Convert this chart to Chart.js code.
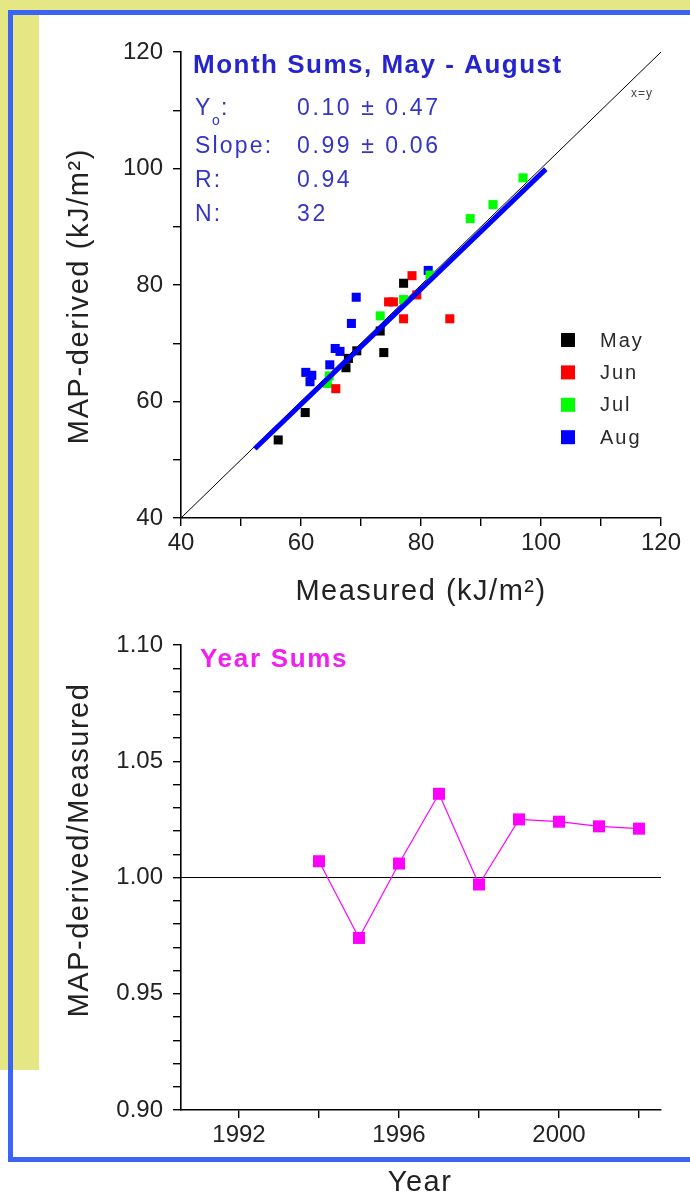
<!DOCTYPE html>
<html>
<head>
<meta charset="utf-8">
<script src="https://cdn.jsdelivr.net/npm/chart.js@4.4.1/dist/chart.umd.min.js"></script>
<style>
    html, body { margin: 0; padding: 0; background: #fff; }
    body { position: relative; width: 690px; height: 1197px; overflow: hidden; }
    .band-top { position: absolute; left: 0; top: 0; width: 690px; height: 10px; background: #e4e783; }
    .band-left { position: absolute; left: 0; top: 0; width: 39px; height: 1070px; background: #e4e783; }
    .frame { position: absolute; left: 8px; top: 10px; width: 720px; height: 1152px; box-sizing: border-box; border: 5px solid #3b63f4; }
    canvas { position: absolute; left: 0; }
    #monthChart { top: 0; }
    #yearChart { top: 620px; }
</style>
</head>
<body>
<div class="band-top"></div>
<div class="band-left"></div>
<div class="frame"></div>
<canvas id="monthChart" width="690" height="620"></canvas>
<canvas id="yearChart" width="690" height="577"></canvas>
<script>
// monthly sums, measured vs MAP-derived (kJ/m2)
const monthNames = ['May', 'Jun', 'Jul', 'Aug'];
const monthColors = ['#000000', '#ff0000', '#00ff00', '#0000ff'];
const mayMeasured = [56.2, 60.7, 67.5, 67.9, 69.3, 73.2, 73.8, 77.1];
const mayDerived = [53.4, 58.1, 65.8, 67.4, 68.7, 72.1, 68.4, 80.3];
const junMeasured = [65.8, 74.6, 75.4, 77.1, 78.5, 79.3, 84.8];
const junDerived = [62.2, 77.1, 77.1, 74.2, 81.6, 78.3, 74.2];
const julMeasured = [64.4, 64.7, 73.2, 77.1, 81.5, 88.2, 92.0, 97.0];
const julDerived = [63.1, 64.4, 74.7, 77.5, 81.7, 91.4, 93.8, 98.4];
const augMeasured = [69.2, 68.4, 65.7, 66.5, 64.8, 60.8, 61.8, 61.5, 81.2];
const augDerived = [77.9, 73.4, 69.1, 68.6, 66.3, 65.0, 64.5, 63.4, 82.5];

// linear fit statistics
const fitIntercept = [0.10, 0.47];
const fitSlope = [0.99, 0.06];
const fitR = 0.94;
const fitN = 32;
const fitRange = [52.3, 100.8];
const identityRange = [40, 120];

const monthTicks = [40, 50, 60, 70, 80, 90, 100, 110, 120];

// yearly sums ratio
const years = [1994, 1995, 1996, 1997, 1998, 1999, 2000, 2001, 2002];
const yearRatio = [1.007, 0.974, 1.006, 1.036, 0.997, 1.025, 1.024, 1.022, 1.021];
const yearRange = [1990.55, 2002.55];
const yearTicks = [1992, 1994, 1996, 1998, 2000, 2002];
const ratioTicks = [90, 91, 92, 93, 94, 95, 96, 97, 98, 99, 100, 101, 102, 103, 104, 105, 106, 107, 108, 109, 110];
const unityRatio = 1.0;

const FONT = "'Liberation Sans', Arial, sans-serif";
const tickFont = { family: FONT, size: 24 };

// plain text drawn on top of the chart (titles, stats, legend)
const textLayer = {
    id: 'textLayer',
    afterDraw(chart, args, opts) {
        const ctx = chart.ctx;
        (opts.legend ? [opts.legend] : []).forEach(lg => {
            lg.labels.forEach((name, i) => {
                const y = lg.top + i * lg.gap;
                ctx.save();
                ctx.fillStyle = lg.colors[i];
                ctx.fillRect(lg.x - lg.size / 2, y - lg.size / 2, lg.size, lg.size);
                ctx.font = lg.font;
                ctx.fillStyle = '#2a2a2a';
                ctx.letterSpacing = '2px';
                ctx.textBaseline = 'middle';
                ctx.fillText(name, lg.textX, y + 1);
                ctx.restore();
            });
        });
        (opts.items || []).forEach(t => {
            ctx.save();
            ctx.font = t.font;
            ctx.fillStyle = t.color || '#222';
            ctx.letterSpacing = (t.spacing || 0) + 'px';
            ctx.textAlign = t.align || 'left';
            ctx.textBaseline = t.baseline || 'alphabetic';
            ctx.translate(t.x, t.y);
            if (t.rotate) ctx.rotate(t.rotate);
            ctx.fillText(t.text, 0, 0);
            ctx.restore();
        });
    }
};

function axisStyle(extra) {
    return Object.assign({
        type: 'linear',
        border: { color: '#000', width: 1.6 },
        grid: { drawOnChartArea: false, drawTicks: true, tickLength: 8, color: '#000', lineWidth: 1.4 },
    }, extra);
}

const toPoints = (xs, ys) => xs.map((x, i) => ({ x: x, y: ys[i] }));
const monthSeries = [
    toPoints(mayMeasured, mayDerived),
    toPoints(junMeasured, junDerived),
    toPoints(julMeasured, julDerived),
    toPoints(augMeasured, augDerived)
];

const fitLine = fitRange.map(x => ({ x: x, y: fitIntercept[0] + fitSlope[0] * x }));
const identityLine = identityRange.map(v => ({ x: v, y: v }));

const statColor = '#3434c8';
const statFont = `23px ${FONT}`;

new Chart(document.getElementById('monthChart'), {
    type: 'scatter',
    data: {
        datasets: [
            { label: 'fit', data: fitLine, showLine: true, borderColor: '#0000ff', borderWidth: 5, pointRadius: 0 },
            ...monthNames.map((name, i) => ({
                label: name,
                data: monthSeries[i],
                backgroundColor: monthColors[i],
                pointStyle: 'rect',
                pointRadius: 6.4,
                pointBorderWidth: 0
            })),
            { label: 'x=y', data: identityLine, showLine: true, borderColor: '#000', borderWidth: 1, pointRadius: 0 }
        ]
    },
    options: {
        responsive: false,
        animation: false,
        events: [],
        layout: { padding: { left: 0, top: 52, right: 29, bottom: 0 } },
        scales: {
            x: axisStyle({
                min: 40, max: 120,
                afterBuildTicks: s => { s.ticks = monthTicks.map(v => ({ value: v })); },
                afterFit: s => { s.height = 102; },
                ticks: { font: tickFont, color: '#222', padding: 3, autoSkip: false, maxRotation: 0,
                    callback: v => (v % 20 === 0 ? String(v) : '') }
            }),
            y: axisStyle({
                min: 40, max: 120,
                afterBuildTicks: s => { s.ticks = monthTicks.map(v => ({ value: v })); },
                afterFit: s => { s.width = 181; },
                ticks: { font: tickFont, color: '#222', padding: 10, autoSkip: false,
                    callback: v => (v % 20 === 0 ? String(v) : '') }
            })
        },
        plugins: {
            legend: { display: false },
            tooltip: { enabled: false },
            textLayer: {
                legend: { labels: monthNames, colors: monthColors, x: 568, textX: 600, top: 340, gap: 32.4, size: 14, font: `20px ${FONT}` },
                items: [
                    { text: 'Month Sums, May - August', x: 193, y: 73, font: `bold 26px ${FONT}`, color: '#2424d0', spacing: 1.5 },
                    { text: 'Y', x: 195, y: 115, font: statFont, color: statColor, spacing: 2 },
                    { text: 'o', x: 212, y: 125, font: `14px ${FONT}`, color: statColor },
                    { text: ':', x: 221, y: 115, font: statFont, color: statColor },
                    { text: 'Slope:', x: 195, y: 153, font: statFont, color: statColor, spacing: 2.2 },
                    { text: 'R:', x: 195, y: 187, font: statFont, color: statColor, spacing: 2.2 },
                    { text: 'N:', x: 195, y: 221, font: statFont, color: statColor, spacing: 2.2 },
                    { text: `${fitIntercept[0].toFixed(2)} ± ${fitIntercept[1].toFixed(2)}`, x: 297, y: 115, font: statFont, color: statColor, spacing: 2.6 },
                    { text: `${fitSlope[0].toFixed(2)} ± ${fitSlope[1].toFixed(2)}`, x: 297, y: 153, font: statFont, color: statColor, spacing: 2.6 },
                    { text: fitR.toFixed(2), x: 297, y: 187, font: statFont, color: statColor, spacing: 2.6 },
                    { text: String(fitN), x: 297, y: 221, font: statFont, color: statColor, spacing: 2.6 },
                    { text: 'x=y', x: 642, y: 94, font: `12px ${FONT}`, color: '#444', align: 'center', baseline: 'middle', spacing: 1 },
                    { text: 'MAP-derived (kJ/m²)', x: 80, y: 296, font: `29px ${FONT}`, color: '#222', align: 'center', baseline: 'middle', rotate: -Math.PI / 2, spacing: 1.6 },
                    { text: 'Measured (kJ/m²)', x: 421, y: 592, font: `29px ${FONT}`, color: '#222', align: 'center', baseline: 'middle', spacing: 1.5 }
                ]
            }
        }
    },
    plugins: [textLayer]
});

new Chart(document.getElementById('yearChart'), {
    type: 'scatter',
    data: {
        datasets: [
            {
                label: 'Year Sums',
                data: toPoints(years, yearRatio),
                showLine: true,
                borderColor: '#ff00ff',
                borderWidth: 1.2,
                backgroundColor: '#ff00ff',
                pointStyle: 'rect',
                pointRadius: 8.5,
                pointBorderWidth: 0
            },
            {
                label: 'unity',
                data: yearRange.map(x => ({ x: x, y: unityRatio })),
                showLine: true,
                borderColor: '#000',
                borderWidth: 1.2,
                pointRadius: 0
            }
        ]
    },
    options: {
        responsive: false,
        animation: false,
        events: [],
        layout: { padding: { left: 0, top: 25, right: 29, bottom: 0 } },
        scales: {
            x: axisStyle({
                min: yearRange[0], max: yearRange[1],
                afterBuildTicks: s => { s.ticks = yearTicks.map(v => ({ value: v })); },
                afterFit: s => { s.height = 87; },
                ticks: { font: tickFont, color: '#222', padding: 3, autoSkip: false, maxRotation: 0,
                    callback: v => ((v - 1992) % 4 === 0 ? String(v) : '') }
            }),
            y: axisStyle({
                min: 0.90, max: 1.10,
                afterBuildTicks: s => { s.ticks = ratioTicks.map(v => ({ value: v / 100 })); },
                afterFit: s => { s.width = 181; },
                ticks: { font: tickFont, color: '#222', padding: 10, autoSkip: false,
                    callback: (v, i) => (i % 5 === 0 ? v.toFixed(2) : '') }
            })
        },
        plugins: {
            legend: { display: false },
            tooltip: { enabled: false },
            textLayer: {
                items: [
                    { text: 'Year Sums', x: 200, y: 47, font: `bold 26px ${FONT}`, color: '#f020f0', spacing: 1.7 },
                    { text: 'MAP-derived/Measured', x: 80, y: 230, font: `29px ${FONT}`, color: '#222', align: 'center', baseline: 'middle', rotate: -Math.PI / 2, spacing: 1.5 },
                    { text: 'Year', x: 420, y: 563, font: `29px ${FONT}`, color: '#222', align: 'center', baseline: 'middle', spacing: 1.5 }
                ]
            }
        }
    },
    plugins: [textLayer]
});
</script>
</body>
</html>
